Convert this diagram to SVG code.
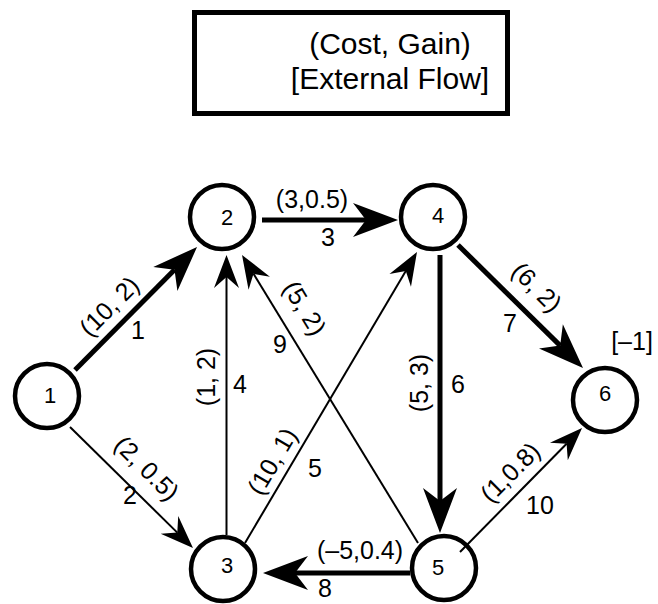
<svg xmlns="http://www.w3.org/2000/svg" width="658" height="604" viewBox="0 0 658 604">
<style>
.node circle{fill:none;stroke:#000;stroke-width:4.5}
.num,.lbl,.title{font-family:"Liberation Sans",Arial,sans-serif;fill:#000;text-anchor:middle}
.num{font-size:22px}
.lbl{font-size:25px}
.title{font-size:30px}
.thin{stroke:#000;stroke-width:2;fill:none}
.thick{stroke:#000;stroke-width:5;fill:none}
</style>
<defs>
<marker id="ah" markerUnits="userSpaceOnUse" orient="auto" refX="11" refY="0" markerWidth="40" markerHeight="40" style="overflow:visible">
<path d="M0,-12.5 L33,0 L0,12.5 L11,0 Z" fill="#000"/>
</marker>
<marker id="ahT" markerUnits="userSpaceOnUse" orient="auto" refX="13" refY="0" markerWidth="50" markerHeight="50" style="overflow:visible">
<path d="M0,-17 L45,0 L0,17 L13,0 Z" fill="#000"/>
</marker>
</defs>
<rect width="658" height="604" fill="#fff"/>
<g id="legend">
<rect x="194.5" y="12.5" width="313" height="101" fill="#fff" stroke="#000" stroke-width="5"/>
<text class="title" x="390" y="54">(Cost, Gain)</text>
<text class="title" x="390" y="89">[External Flow]</text>
</g>
<g id="connectors">
<line id="e1" class="thick" x1="75" y1="370" x2="174.5" y2="269.7" marker-end="url(#ahT)"/>
<line id="e2" class="thin" x1="70" y1="427" x2="177.3" y2="532.6" marker-end="url(#ah)"/>
<line id="e3" class="thick" x1="262" y1="220" x2="366" y2="220" marker-end="url(#ahT)"/>
<line id="e4" class="thin" x1="226.5" y1="535" x2="226.5" y2="277" marker-end="url(#ah)"/>
<line id="e5" class="thin" x1="245" y1="543" x2="405.8" y2="270.9" marker-end="url(#ah)"/>
<line id="e6" class="thick" x1="440" y1="255" x2="440" y2="501" marker-end="url(#ahT)"/>
<line id="e7" class="thick" x1="458" y1="245" x2="560.2" y2="345.6" marker-end="url(#ahT)"/>
<line id="e8" class="thick" x1="410" y1="573" x2="295" y2="573" marker-end="url(#ahT)"/>
<line id="e9" class="thin" x1="418" y1="543" x2="253.5" y2="273.8" marker-end="url(#ah)"/>
<line id="e10" class="thin" x1="460" y1="552" x2="566.6" y2="443.7" marker-end="url(#ah)"/>
<g id="edge-labels">
<text class="lbl" transform="translate(109,306) rotate(-45)" y="9">(10, 2)</text>
<text class="lbl" x="138" y="339">1</text>
<text class="lbl" transform="translate(147,468) rotate(45)" y="9">(2, 0.5)</text>
<text class="lbl" x="130" y="504">2</text>
<text class="lbl" x="312" y="208">(3,0.5)</text>
<text class="lbl" x="328" y="246">3</text>
<text class="lbl" transform="translate(206,377) rotate(-90)" y="9">(1, 2)</text>
<text class="lbl" x="240" y="393">4</text>
<text class="lbl" transform="translate(272,461) rotate(-59.4)" y="9">(10, 1)</text>
<text class="lbl" x="315" y="477">5</text>
<text class="lbl" transform="translate(419,383) rotate(-90)" y="9">(5, 3)</text>
<text class="lbl" x="458" y="393">6</text>
<text class="lbl" transform="translate(537,287) rotate(45)" y="9">(6, 2)</text>
<text class="lbl" x="510" y="332">7</text>
<text class="lbl" x="360" y="559">(–5,0.4)</text>
<text class="lbl" x="325" y="597">8</text>
<text class="lbl" transform="translate(305,308) rotate(58.6)" y="9">(5, 2)</text>
<text class="lbl" x="280" y="353">9</text>
<text class="lbl" transform="translate(510,472) rotate(-45)" y="9">(1,0.8)</text>
<text class="lbl" x="540" y="514">10</text>
</g>
</g>
<g id="node1" class="node"><circle cx="47" cy="396" r="32"/><text class="num" x="50" y="403">1</text></g>
<g id="node2" class="node"><circle cx="222" cy="217" r="32"/><text class="num" x="227" y="225">2</text></g>
<g id="node3" class="node"><circle cx="223" cy="569" r="32"/><text class="num" x="227" y="573">3</text></g>
<g id="node4" class="node"><circle cx="433" cy="217" r="32"/><text class="num" x="438" y="223">4</text></g>
<g id="node5" class="node"><circle cx="444" cy="568" r="32"/><text class="num" x="438" y="575">5</text></g>
<g id="node6" class="node"><circle cx="605" cy="400" r="32"/><text class="num" x="605" y="401">6</text>
<text class="lbl" x="632" y="350">[–1]</text></g>
</svg>
